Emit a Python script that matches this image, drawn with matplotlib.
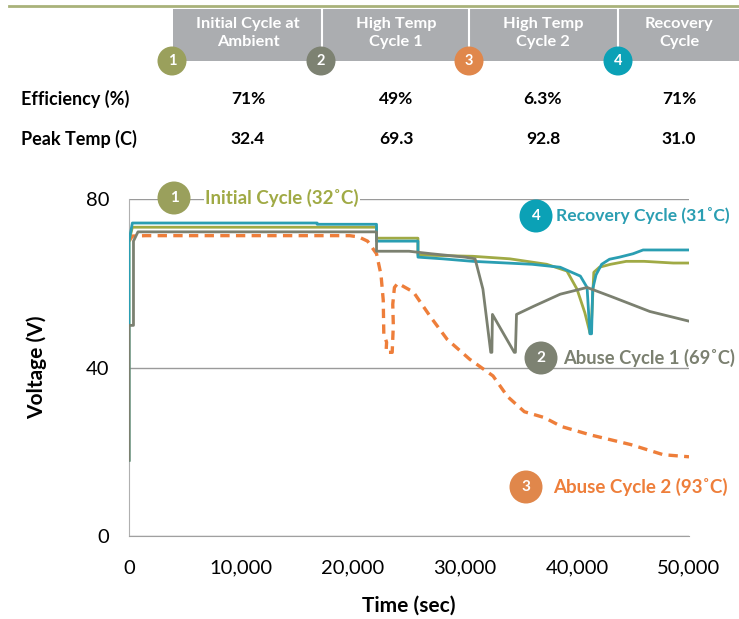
import matplotlib
matplotlib.use('Agg')
import matplotlib.pyplot as plt
from matplotlib.patches import Ellipse, Rectangle
from matplotlib.lines import Line2D

plt.rcParams['font.family'] = ['Lato', 'DejaVu Sans']

# Header table
cycles = ['Initial Cycle at\nAmbient', 'High Temp\nCycle 1', 'High Temp\nCycle 2', 'Recovery\nCycle']
efficiency = ['71%', '49%', '6.3%', '71%']
peak_temp = ['32.4', '69.3', '92.8', '31.0']
row_labels = ['Efficiency (%)', 'Peak Temp (C)']

# Voltage traces (time in sec, voltage in V)
t_init = [0, 0, 300, 22100, 22100, 25800, 25800, 30700, 34000, 37300, 39100, 40000, 40700,
          41150, 41250, 41500, 42000, 43000, 44400, 46000, 48600, 50000]
v_init = [18, 70, 73.3, 73.3, 70.7, 70.7, 66.7, 66.4, 65.8, 64.5, 62.9, 58.6, 53,
          48.3, 48.3, 62.6, 63.8, 64.5, 65.2, 65.2, 64.8, 64.8]

t_abuse1 = [0, 0, 400, 400, 800, 22100, 22100, 25000, 27000, 30000, 30900, 31600, 32300, 32400,
            32450, 34400, 34500, 34600, 36100, 38500, 40900, 43200, 46500, 50000]
v_abuse1 = [18, 50, 50, 70, 72.2, 72.2, 67.6, 67.6, 67, 66.2, 65.8, 58.6, 43.6, 43.6,
            52.6, 43.6, 43.6, 52.6, 54.5, 57.4, 59.0, 56.7, 53.3, 51.0]

t_abuse2 = [0, 300, 1500, 19700, 20500, 21300, 22100, 22500, 22700, 22750, 23000, 22950,
            23500, 23600, 23550, 23700, 24000, 25400, 26900, 28400, 30400, 32500, 33800,
            35300, 37100, 38600, 41200, 44800, 47700, 50000]
v_abuse2 = [70, 71.2, 71.3, 71.3, 71.0, 70.0, 67.0, 62, 56, 48, 46, 43.6,
            43.6, 50, 55, 59, 60, 57.9, 52.1, 46.7, 42.0, 38.0, 33.1,
            29.5, 28.1, 26, 24, 21.7, 19.3, 18.8]

t_recov = [0, 0, 300, 16800, 16800, 22100, 22100, 25800, 25800, 28000, 30700, 33000, 36000,
           38500, 40300, 40900, 41150, 41300, 41400, 41700, 42200, 42900, 43800, 45000, 45900, 50000]
v_recov = [18, 70, 74.3, 74.3, 74.0, 74.0, 70.0, 70.0, 66.2, 65.8, 65.2, 64.9, 64.5,
           63.8, 61.7, 59, 48, 48, 58.6, 62, 64.5, 65.7, 66.2, 67, 67.9, 67.9]

c_init = '#A0AA45'
c_abuse1 = '#7B8070'
c_abuse2 = '#EE7E3A'
c_recov = '#2A9EB2'
circ_colors = ['#9AA05C', '#7D8272', '#E0874B', '#0BA1B6']

W, H = 739, 619
fig = plt.figure(figsize=(W / 100, H / 100), dpi=100)


def px(x, y):
    return x / W, 1 - y / H


def badge(x, y, r, num, color, size):
    fig.patches.append(Ellipse(px(x, y), 2 * r / W, 2 * r / H, transform=fig.transFigure,
                               facecolor=color, edgecolor='none', zorder=5))
    fig.text(*px(x, y), str(num), ha='center', va='center', color='white',
             fontsize=size, fontweight='bold', zorder=6)


# ---- header ----
fig.add_artist(Line2D([9 / W, 1], [1 - 6 / H] * 2, color='#A9B27A', lw=2, transform=fig.transFigure))
fig.patches.append(Rectangle(px(173, 61), (W - 173) / W, 52 / H, transform=fig.transFigure,
                             facecolor='#ABADB0', edgecolor='none', zorder=1))
for xs in [322, 469, 618]:
    fig.add_artist(Line2D([xs / W] * 2, [1 - 9 / H, 1 - 61 / H], color='white', lw=1.5,
                          transform=fig.transFigure, zorder=2))

col_x = [248, 396, 543, 679]
badge_x = [172, 321, 469, 618]
for i in range(4):
    fig.text(*px(col_x[i], 33), cycles[i], ha='center', va='center', color='white',
             fontsize=11.8, fontweight='bold', linespacing=1.3)
    badge(badge_x[i], 61, 14.5, i + 1, circ_colors[i], 10.5)
    fig.text(*px(col_x[i], 99), efficiency[i], ha='center', va='center', fontsize=12.5,
             fontweight='bold')
    fig.text(*px(col_x[i], 139), peak_temp[i], ha='center', va='center', fontsize=12.5,
             fontweight='bold')
fig.text(*px(21, 99), row_labels[0], ha='left', va='center', fontsize=13, fontweight='bold')
fig.text(*px(21, 139), row_labels[1], ha='left', va='center', fontsize=13, fontweight='bold')

# ---- chart ----
ax = fig.add_axes([129 / W, 1 - 536 / H, 560 / W, 337 / H])
ax.plot(t_abuse2, v_abuse2, color=c_abuse2, lw=2.4, ls=(0, (2.8, 1.9)), zorder=3)
ax.plot(t_init, v_init, color=c_init, lw=2.0, zorder=4)
ax.plot(t_recov, v_recov, color=c_recov, lw=2.0, zorder=5)
ax.plot(t_abuse1, v_abuse1, color=c_abuse1, lw=2.0, zorder=6)

ax.set_xlim(0, 50000)
ax.set_ylim(0, 80)
ax.set_yticks([0, 40, 80])
ax.set_xticks([0, 10000, 20000, 30000, 40000, 50000])
ax.set_xticklabels(['0', '10,000', '20,000', '30,000', '40,000', '50,000'])
ax.grid(axis='y', color='#9A9A9A', lw=1)
ax.set_axisbelow(True)
for s in ['top', 'right']:
    ax.spines[s].set_visible(False)
ax.spines['left'].set_color('#B0B0B0')
ax.spines['bottom'].set_color('#A0A0A0')
ax.tick_params(length=0, labelsize=14.5)
ax.tick_params(axis='x', pad=17)
ax.tick_params(axis='y', pad=14)
ax.set_xlabel('Time (sec)', fontsize=15, fontweight='bold', labelpad=14)
ax.set_ylabel('Voltage (V)', fontsize=15, fontweight='bold', labelpad=28)

labels = [
    (174, 198, 205, 'Initial Cycle (32\u02daC)', 1, c_init, circ_colors[0], 13.5),
    (536, 216, 556, 'Recovery Cycle (31\u02daC)', 4, c_recov, circ_colors[3], 12.6),
    (541, 358, 563, 'Abuse Cycle 1 (69\u02daC)', 2, c_abuse1, circ_colors[1], 13.2),
    (526, 487, 553, 'Abuse Cycle 2 (93\u02daC)', 3, c_abuse2, circ_colors[2], 13.5),
]
for cx, cy, tx, txt, num, tcol, ccol, fs in labels:
    badge(cx, cy, 16.5, num, ccol, 11)
    fig.text(*px(tx, cy), txt, ha='left', va='center', color=tcol, fontsize=fs,
             fontweight='bold',
             bbox=dict(facecolor='white', edgecolor='none', pad=1) if num == 1 else None)

fig.savefig('out.png', dpi=100)
